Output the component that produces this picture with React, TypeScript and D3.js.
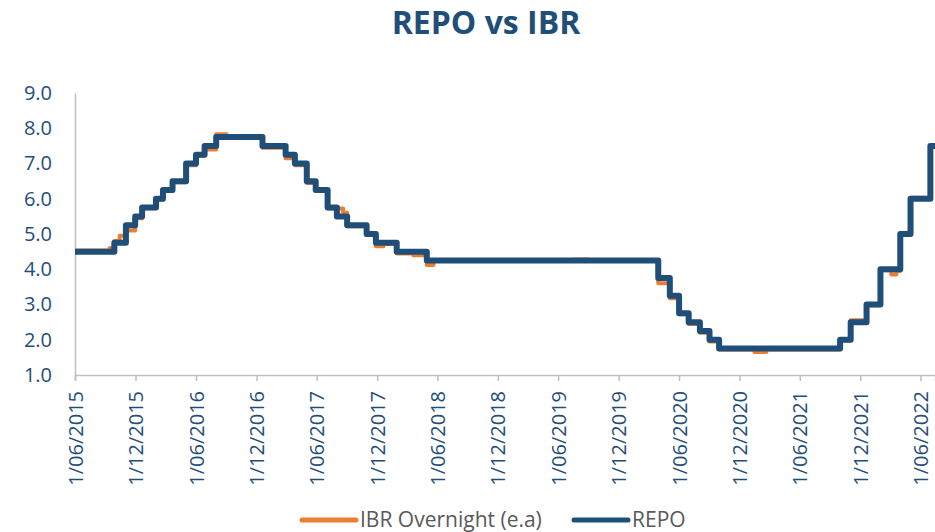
import * as d3 from 'd3';
import React, { useEffect, useRef } from 'react';

// REPO (policy rate) change dates and levels, step after each date
const repoDates = [
  '2015-06-01', '2015-09-28', '2015-11-02', '2015-11-30', '2015-12-21', '2016-02-01',
  '2016-02-22', '2016-03-22', '2016-05-02', '2016-06-01', '2016-06-27', '2016-08-01',
  '2016-12-19', '2017-02-27', '2017-03-27', '2017-05-02', '2017-05-29', '2017-07-04',
  '2017-08-01', '2017-09-01', '2017-10-30', '2017-11-27', '2018-01-29', '2018-04-30',
  '2020-03-30', '2020-05-04', '2020-06-01', '2020-06-30', '2020-08-03', '2020-09-01',
  '2020-09-30', '2021-10-01', '2021-11-02', '2021-12-20', '2022-01-31', '2022-04-01',
  '2022-05-02', '2022-07-01', '2022-07-15'
];
const repoValues = [
  4.5, 4.75, 5.25, 5.5, 5.75, 6.0,
  6.25, 6.5, 7.0, 7.25, 7.5, 7.75,
  7.5, 7.25, 7.0, 6.5, 6.25, 5.75,
  5.5, 5.25, 5.0, 4.75, 4.5, 4.25,
  3.75, 3.25, 2.75, 2.5, 2.25, 2.0,
  1.75, 2.0, 2.5, 3.0, 4.0, 5.0,
  6.0, 7.5, 7.5
];

const ibrDates = [
  '2015-06-01', '2015-09-14', '2015-09-28', '2015-10-14', '2015-11-02', '2015-11-30',
  '2015-12-21', '2016-02-01', '2016-02-22', '2016-03-22', '2016-05-02', '2016-06-01',
  '2016-06-27', '2016-08-01', '2016-09-01', '2016-12-19', '2017-02-27', '2017-03-27',
  '2017-05-02', '2017-05-29', '2017-07-04', '2017-08-20', '2017-09-01', '2017-10-30',
  '2017-11-27', '2017-12-20', '2018-01-29', '2018-03-20', '2018-04-30', '2018-05-20',
  '2019-07-20', '2019-09-01', '2020-03-30', '2020-05-04', '2020-06-01', '2020-06-30',
  '2020-08-03', '2020-09-01', '2020-09-30', '2021-01-15', '2021-02-20', '2021-10-01',
  '2021-11-02', '2021-12-20', '2022-01-31', '2022-03-05', '2022-03-20', '2022-04-01',
  '2022-05-02', '2022-07-01', '2022-07-15'
];
const ibrValues = [
  4.53, 4.6, 4.8, 4.95, 5.1, 5.45,
  5.73, 5.97, 6.22, 6.47, 6.95, 7.22,
  7.4, 7.83, 7.75, 7.45, 7.15, 6.95,
  6.45, 6.22, 5.72, 5.6, 5.22, 4.97,
  4.65, 4.72, 4.45, 4.4, 4.12, 4.24,
  4.28, 4.24, 3.6, 3.18, 2.72, 2.45,
  2.2, 1.95, 1.72, 1.65, 1.72, 1.98,
  2.55, 2.98, 3.97, 3.85, 3.95, 4.97,
  6.03, 7.47, 7.47
];

const xTickDates = [
  '2015-06-01', '2015-12-01', '2016-06-01', '2016-12-01', '2017-06-01', '2017-12-01',
  '2018-06-01', '2018-12-01', '2019-06-01', '2019-12-01', '2020-06-01', '2020-12-01',
  '2021-06-01', '2021-12-01', '2022-06-01'
];
const yTicks = [1, 2, 3, 4, 5, 6, 7, 8, 9];

const parse = d3.timeParse('%Y-%m-%d');
const blue = '#1F4E79';
const orange = '#ED7D31';
const font = 'Open Sans, sans-serif';

const App = () => {
  const ref = useRef<SVGSVGElement>(null);

  useEffect(() => {
    const svg = d3.select(ref.current);
    svg.selectAll('*').remove();

    const x = d3.scaleTime()
      .domain([parse('2015-06-01') as Date, parse('2022-07-15') as Date])
      .range([75, 935]);
    const y = d3.scaleLinear().domain([1, 9]).range([375, 93]);

    // title
    svg.append('text')
      .attr('x', 486).attr('y', 34)
      .attr('text-anchor', 'middle')
      .style('font-family', font).style('font-weight', 700)
      .style('font-size', '32px').style('fill', blue)
      .text('REPO vs IBR');

    // y axis
    const yAxis = svg.append('g')
      .attr('transform', 'translate(75,0)')
      .call(d3.axisLeft(y).tickValues(yTicks).tickSize(0).tickPadding(23).tickFormat(d3.format('.1f')));
    yAxis.select('.domain').attr('stroke', '#BFBFBF').attr('stroke-width', 1.5);
    yAxis.selectAll('text').style('font-family', font).style('font-size', '20px').style('fill', blue);

    // x axis
    const xAxis = svg.append('g')
      .attr('transform', 'translate(0,375)')
      .call(d3.axisBottom(x)
        .tickValues(xTickDates.map((d) => parse(d) as Date))
        .tickSizeOuter(0).tickSize(6)
        .tickFormat((d: any) => d3.timeFormat('%-d/%m/%Y')(d)));
    xAxis.select('.domain').attr('stroke', '#BFBFBF').attr('stroke-width', 1.5);
    xAxis.selectAll('line').attr('stroke', '#BFBFBF').attr('stroke-width', 1.5);
    xAxis.selectAll('text')
      .attr('transform', 'rotate(-90)')
      .attr('text-anchor', 'end')
      .attr('x', -16).attr('y', 0).attr('dy', '0.35em')
      .style('font-family', font).style('font-size', '20px').style('fill', blue);

    const line = d3.line<any>()
      .x((d) => x(d.date))
      .y((d) => y(d.value))
      .curve(d3.curveStepAfter);

    const ibr = ibrDates.map((d, i) => ({ date: parse(d), value: ibrValues[i] }));
    const repo = repoDates.map((d, i) => ({ date: parse(d), value: repoValues[i] }));

    svg.append('path').datum(ibr)
      .attr('d', line).attr('fill', 'none')
      .attr('stroke', orange).attr('stroke-width', 4).attr('stroke-linejoin', 'round');
    svg.append('path').datum(repo)
      .attr('d', line).attr('fill', 'none')
      .attr('stroke', blue).attr('stroke-width', 6).attr('stroke-linejoin', 'round');

    // legend
    const legend = [
      { label: 'IBR Overnight (e.a)', color: orange, x: 302 },
      { label: 'REPO', color: blue, x: 574 }
    ];
    const lg = svg.selectAll('.legend').data(legend).enter().append('g')
      .attr('class', 'legend')
      .attr('transform', (d) => 'translate(' + d.x + ',520)');
    lg.append('line')
      .attr('x1', 0).attr('x2', 54).attr('y1', 0).attr('y2', 0)
      .attr('stroke', (d) => d.color).attr('stroke-width', 5).attr('stroke-linecap', 'round');
    lg.append('text')
      .attr('x', 58).attr('y', 0).attr('dy', '0.35em')
      .style('font-family', font).style('font-size', '21px').style('fill', '#595959')
      .text((d) => d.label);
  }, []);

  return (
    <svg ref={ref} width={935} height={532}
      style={{ position: 'absolute', left: 0, top: 0, background: '#fff' }} />
  );
};

export default App;
